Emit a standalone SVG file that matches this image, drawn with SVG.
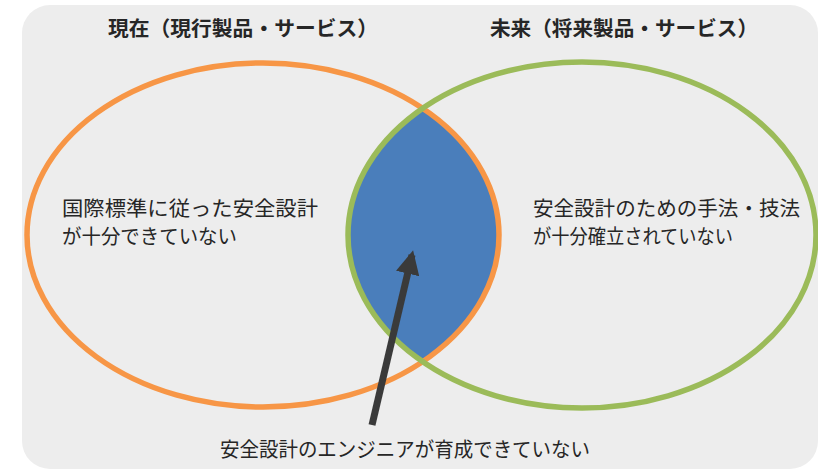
<svg xmlns="http://www.w3.org/2000/svg" width="818" height="472" viewBox="0 0 818 472">
<defs>
<style>
text{font-family:"Noto Sans CJK JP","Noto Sans CJK SC",sans-serif;fill:#262626}
.title{font-size:20.5px;font-weight:bold}
.body{font-size:20.5px}
.ring{fill:none;stroke-width:5.5}
</style>
<clipPath id="clipL"><ellipse cx="263" cy="235" rx="236" ry="172"/></clipPath>
<marker id="ah" viewBox="0 0 10 10" refX="8" refY="5" markerWidth="3.4" markerHeight="3.4" orient="auto" markerUnits="strokeWidth">
<path d="M0,0 L10,5 L0,10 z" fill="#3a3a3a"/>
</marker>
</defs>
<rect x="0" y="0" width="818" height="472" fill="#ffffff"/>
<rect id="panel" x="22" y="5" width="796" height="464" rx="28" fill="#ededed"/>
<g id="intersection">
<ellipse cx="582" cy="235" rx="234" ry="173" fill="#4a7ebb" clip-path="url(#clipL)"/>
</g>
<g id="current">
<ellipse class="ring" cx="263" cy="235" rx="236" ry="172" stroke="#f79646"/>
<text class="title" x="108" y="36" textLength="270" lengthAdjust="spacingAndGlyphs">現在（現行製品・サービス）</text>
<text class="body" x="62" y="216" textLength="256" lengthAdjust="spacingAndGlyphs">国際標準に従った安全設計</text>
<text class="body" x="62" y="244" textLength="175" lengthAdjust="spacingAndGlyphs">が十分できていない</text>
</g>
<g id="future">
<ellipse class="ring" cx="582" cy="235" rx="234" ry="173" stroke="#9bbb59"/>
<text class="title" x="490" y="36" textLength="268" lengthAdjust="spacingAndGlyphs">未来（将来製品・サービス）</text>
<text class="body" x="533" y="216" textLength="267" lengthAdjust="spacingAndGlyphs">安全設計のための手法・技法</text>
<text class="body" x="533" y="244" textLength="200" lengthAdjust="spacingAndGlyphs">が十分確立されていない</text>
</g>
<g id="connectors">
<line x1="372" y1="425" x2="412" y2="255" stroke="#3a3a3a" stroke-width="7" marker-end="url(#ah)"/>
</g>
<g id="engineer">
<text class="body" x="220" y="457" textLength="370" lengthAdjust="spacingAndGlyphs">安全設計のエンジニアが育成できていない</text>
</g>
</svg>
